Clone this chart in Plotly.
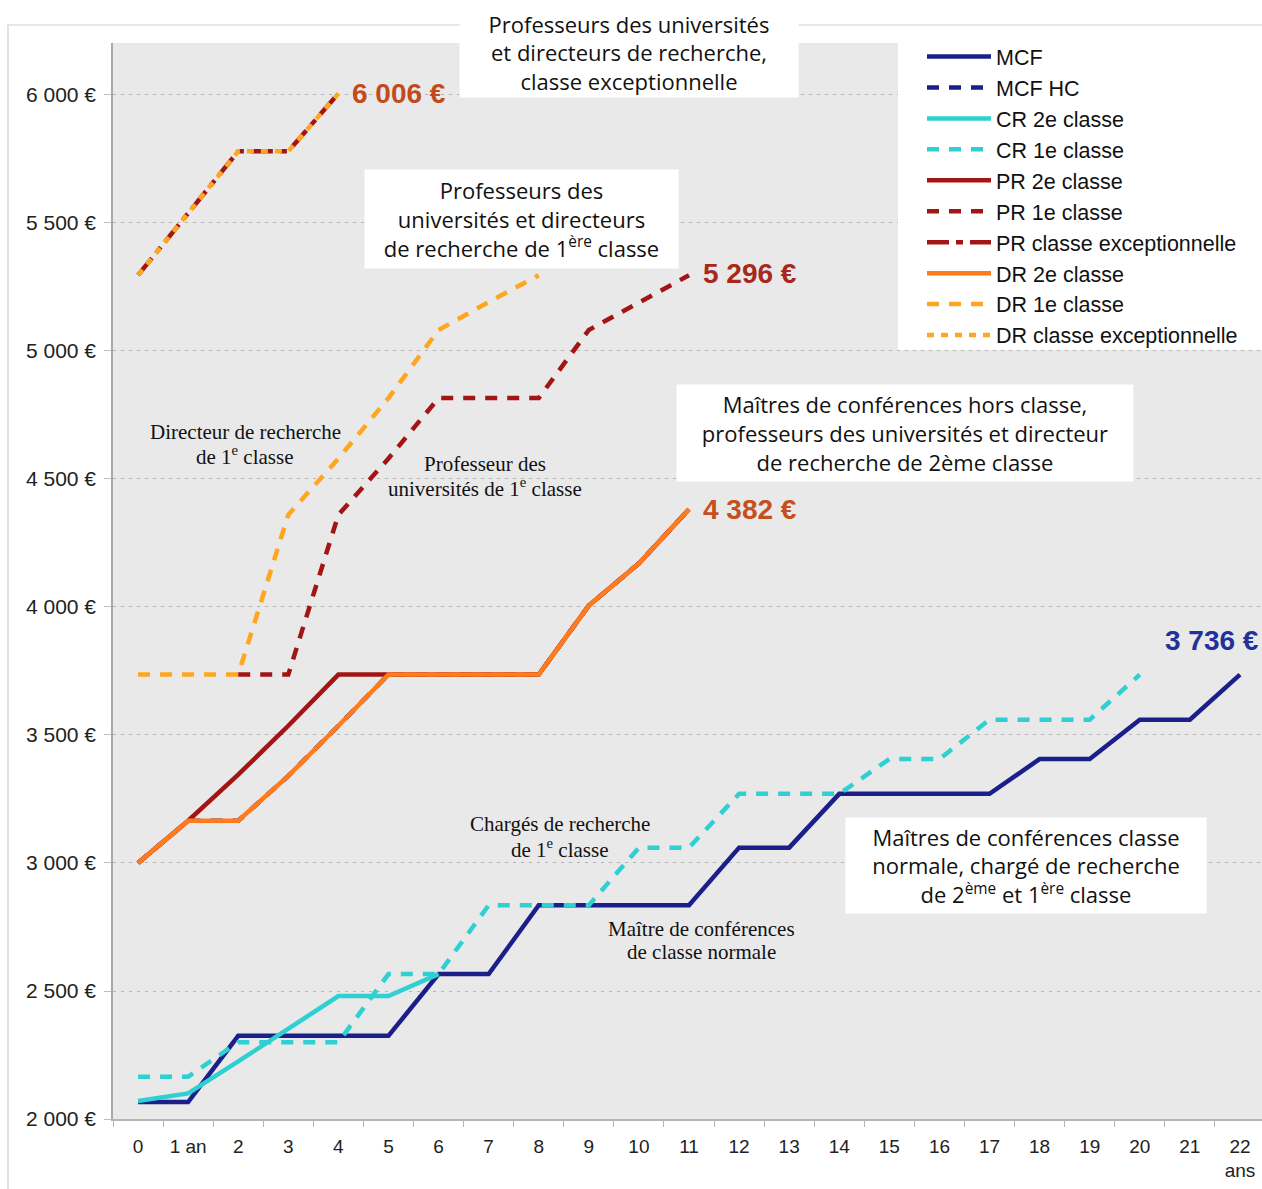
import plotly.graph_objects as go

# Years of service (category axis)
years = ["0", "1 an"] + [str(i) for i in range(2, 22)] + ["22<br>ans"]

# Monthly gross salary (€) per grade and year
mcf = [2066, 2066, 2325, 2325, 2325, 2325, 2566, 2566, 2835, 2835, 2835, 2835,
       3060, 3060, 3270, 3270, 3270, 3270, 3406, 3406, 3560, 3560, 3736]
mcf_hc = [3000, 3165, 3165, 3340, 3536, 3736, 3736, 3736, 3736, 4006, 4170, 4382]
cr2 = [2070, 2100, 2225, 2355, 2480, 2480, 2566]
cr1 = [2165, 2165, 2300, 2300, 2300, 2566, 2566, 2835, 2835, 2835, 3060, 3060,
       3270, 3270, 3270, 3406, 3406, 3560, 3560, 3560, 3736]
pr2 = [3000, 3165, 3345, 3536, 3736, 3736, 3736, 3736, 3736, 4006, 4170, 4382]
pr1 = [None, None, 3736, 3736, 4360, 4580, 4816, 4816, 4816, 5082, 5191, 5296]
pr_exc = [5296, 5540, 5780, 5780, 6006]
dr2 = [3000, 3165, 3165, 3340, 3536, 3736, 3736, 3736, 3736, 4006, 4170, 4382]
dr1 = [3736, 3736, 3736, 4360, 4580, 4816, 5082, 5191, 5296]
dr_exc = [5296, 5540, 5780, 5780, 6006]

y_ticks = [2000, 2500, 3000, 3500, 4000, 4500, 5000, 5500, 6000]

NAVY = "#1b1f8a"
CYAN = "#2fd0d2"
DKRED = "#a31414"
ORANGE = "#ff7b1c"
AMBER = "#ffa620"

W = 4.5
series = [
    ("MCF", mcf, NAVY, "solid"),
    ("MCF HC", mcf_hc, NAVY, "12px,10px"),
    ("CR 2e classe", cr2, CYAN, "solid"),
    ("CR 1e classe", cr1, CYAN, "12px,10px"),
    ("PR 2e classe", pr2, DKRED, "solid"),
    ("PR 1e classe", pr1, DKRED, "12px,10px"),
    ("PR classe exceptionnelle", pr_exc, DKRED, "22px,7px,7px,7px"),
    ("DR 2e classe", dr2, ORANGE, "solid"),
    ("DR 1e classe", dr1, AMBER, "12px,10px"),
    ("DR classe exceptionnelle", dr_exc, AMBER, "7px,7px"),
]

fig = go.Figure()
for name, vals, color, dash in series:
    fig.add_trace(go.Scatter(
        x=years[:len(vals)], y=vals, name=name, mode="lines",
        line=dict(color=color, width=W, dash=dash),
        legendgroup=name, connectgaps=False,
    ))

# Plot-area pixel helpers for free-floating labels
L, T, PW, PH = 113, 43, 1149, 1076


def px(xp):
    return (xp - L) / PW


def py(yp):
    return (T + PH - yp) / PH


def euro(v):
    return f"{v:,}".replace(",", " ") + " €"


annotations = []

# End-of-career values
for xi, v, col, xs, ys in [
    (4, pr_exc[-1], "#c24a1c", 12, 0),
    (11, pr1[-1], "#a8281c", 12, 2),
    (11, dr2[-1], "#c4501e", 12, 0),
]:
    annotations.append(dict(
        x=years[xi], y=v, xref="x", yref="y", text=f"<b>{euro(v)}</b>",
        showarrow=False, xanchor="left", yanchor="middle", xshift=xs, yshift=ys,
        font=dict(family="Liberation Sans", size=28, color=col),
    ))
annotations.append(dict(
    x=years[22], y=mcf[-1], xref="x", yref="y", text=f"<b>{euro(mcf[-1])}</b>",
    showarrow=False, xanchor="center", yanchor="middle", xshift=-28, yshift=34,
    font=dict(family="Liberation Sans", size=28, color="#22309a"),
))

# White caption boxes
boxes = [
    ("Professeurs des universités<br>et directeurs de recherche,<br>classe exceptionnelle",
     460, 798, 8, 97),
    ("Professeurs des<br>universités et directeurs<br>de recherche de 1<sup>ère</sup> classe",
     365, 678, 170, 268),
    ("Maîtres de conférences hors classe,<br>professeurs des universités et directeur<br>de recherche de 2ème classe",
     677, 1133, 385, 481),
    ("Maîtres de conférences classe<br>normale, chargé de recherche<br>de 2<sup>ème</sup> et 1<sup>ère</sup> classe",
     846, 1206, 818, 913),
]
for text, x0, x1, y0, y1 in boxes:
    annotations.append(dict(
        x=px((x0 + x1) / 2), y=py((y0 + y1) / 2), xref="paper", yref="paper",
        text=text, showarrow=False, xanchor="center", yanchor="middle",
        width=x1 - x0, height=y1 - y0, bgcolor="white", borderpad=0,
        align="center", valign="middle",
        font=dict(family="Open Sans", size=22, color="#111111"),
    ))

# Serif notes next to the curves, one line each
notes = [
    ("Directeur de recherche", 245, 432),
    ("de 1<sup>e</sup> classe", 245, 455),
    ("Professeur des", 485, 464),
    ("universités de 1<sup>e</sup> classe", 485, 487),
    ("Chargés de recherche", 560, 824),
    ("de 1<sup>e</sup> classe", 560, 848),
    ("Maître de conférences", 701, 929),
    ("de classe normale", 701, 952),
]
for text, xc, yc in notes:
    annotations.append(dict(
        x=px(xc), y=py(yc), xref="paper", yref="paper", text=text,
        showarrow=False, xanchor="center", yanchor="middle", align="center",
        font=dict(family="Liberation Serif", size=21, color="#111111"),
    ))

fig.update_layout(
    width=1262, height=1189,
    margin=dict(l=L, r=0, t=T, b=1189 - T - PH),
    paper_bgcolor="white", plot_bgcolor="#e9e9e9",
    font=dict(family="Liberation Sans", size=19, color="#222222"),
    showlegend=True,
    legend=dict(
        x=px(922), y=py(36), xanchor="left", yanchor="top",
        bgcolor="rgba(0,0,0,0)", borderwidth=0, itemwidth=64, tracegroupgap=0,
        font=dict(family="Liberation Sans", size=21.5, color="#111111"),
    ),
    annotations=annotations,
    shapes=[
        dict(type="rect", xref="paper", yref="paper",
             x0=px(8), x1=px(1300), y0=py(1300), y1=py(25),
             line=dict(color="#cfcfcf", width=1.2), layer="below"),
        # white panel behind the legend
        dict(type="rect", xref="paper", yref="paper",
             x0=px(898), x1=px(1270), y0=py(350), y1=py(40),
             fillcolor="white", line=dict(width=0), layer="above"),
    ],
)

fig.update_xaxes(
    type="category", categoryorder="array", categoryarray=years,
    range=[-0.5, 22.44], tickson="boundaries", ticks="outside", ticklen=6,
    tickcolor="#b5b5b5", showgrid=False, showline=True, linecolor="#b5b5b5",
    linewidth=1.5, ticklabelstandoff=9, tickfont=dict(size=19, color="#222222"),
    zeroline=False,
)
fig.update_yaxes(
    range=[2000, 6203], tickvals=y_ticks, ticktext=[euro(v) for v in y_ticks],
    showgrid=True, gridcolor="#b4b4b4", gridwidth=1, griddash="3px,5px",
    ticks="outside", ticklen=7, tickcolor="#bdbdbd", showline=True,
    linecolor="#a8a8a8", linewidth=1.5, ticklabelstandoff=4,
    tickfont=dict(size=21, color="#222222"), zeroline=False,
)

fig.write_html("out.html")
